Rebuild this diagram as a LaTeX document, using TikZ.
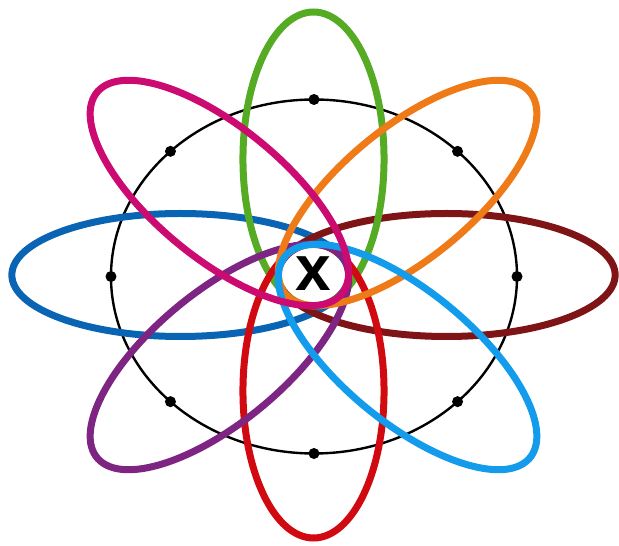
\documentclass[tikz,border=0pt]{standalone}
\usepackage{fontspec}
\setmainfont{Liberation Sans}
\usetikzlibrary{calc}
\definecolor{cblue}{HTML}{0A64B4}
\definecolor{cdred}{HTML}{7F1416}
\definecolor{cgreen}{HTML}{56AB24}
\definecolor{cred}{HTML}{D10A12}
\definecolor{corange}{HTML}{EE7A18}
\definecolor{cmag}{HTML}{CB0B72}
\definecolor{cpurple}{HTML}{7E2483}
\definecolor{clblue}{HTML}{139BEC}
\tikzset{
  petal/.style={line width=7pt},
  orbit/.style={line width=2.4pt, draw=black},
  electron/.style={circle, fill=black, inner sep=0pt, minimum size=11pt},
}
\begin{document}
\begin{tikzpicture}[x=1pt,y=1pt]
\useasboundingbox (0,0) rectangle (619,546);
\coordinate (c) at (314,269.5);
\coordinate (p) at (313.5,271);
\begin{scope}[shift={(c)}, xscale=1.147]
  \draw[orbit] (0,0) circle [radius=177];
\end{scope}
\begin{scope}[shift={(p)}, xscale=1.147]
  \foreach \ang/\col in {180/cblue, 0/cdred, 90/cgreen, 270/cred, 225/cpurple, 45/corange, 315/clblue, 135/cmag}{
    \draw[petal, draw=\col, rotate=\ang] (116,0) ellipse [x radius=147, y radius=61.5];
  }
\end{scope}
\foreach \ang [count=\i] in {0,45,...,315}{
  \node[electron] (e\i) at ($(c)+({203*cos(\ang)},{177*sin(\ang)})$) {};
}
\node[font=\bfseries\fontsize{64}{64}\selectfont, inner sep=0pt] (x) at (313.5,272) {x};
\end{tikzpicture}
\end{document}
